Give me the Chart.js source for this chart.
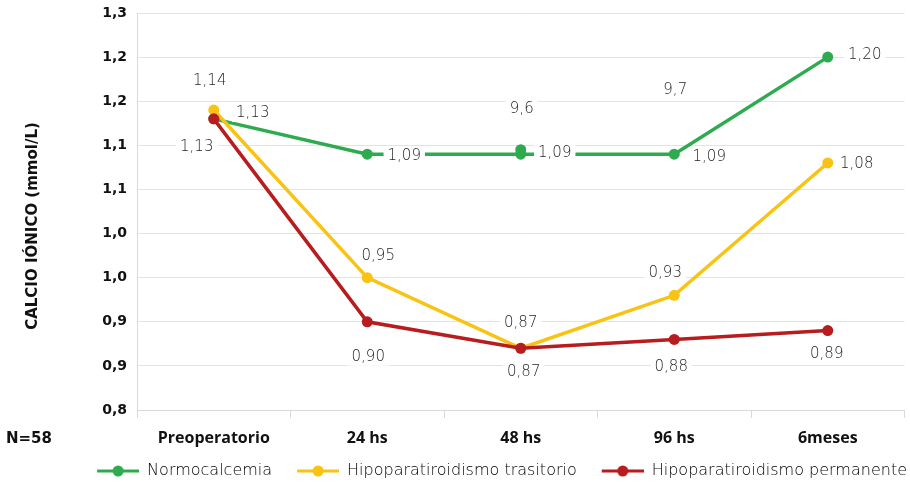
<!DOCTYPE html>
<html>
<head>
<meta charset="utf-8">
<script src="https://cdn.jsdelivr.net/npm/chart.js@4.4.1/dist/chart.umd.min.js"></script>
<style>
  html, body { margin: 0; padding: 0; background: #ffffff; }
  #wrap { width: 910px; height: 483px; }
</style>
</head>
<body>
<div id="wrap"><canvas id="calcio" width="910" height="483"></canvas></div>
<script>
// Ionic calcium (mmol/L) by group over follow-up time
const categories = ['Preoperatorio', '24 hs', '48 hs', '96 hs', '6meses'];
const seriesNames = ['Normocalcemia', 'Hipoparatiroidismo trasitorio', 'Hipoparatiroidismo permanente'];
const normocalcemia = [1.13, 1.09, 1.09, 1.09, 1.20];
const hipoTrasitorio = [1.14, 0.95, 0.87, 0.93, 1.08];
const hipoPermanente = [1.13, 0.90, 0.87, 0.88, 0.89];
const strayNormoPoint = [null, null, 1.095, null, null];
const yTickLabels = ['0,8', '0,9', '0,9', '1,0', '1,0', '1,1', '1,1', '1,2', '1,2', '1,3'];
const extraNotes = ['', '', '9,6', '9,7', ''];

// Layout of the value labels: centre offset from each point, in px
const labelOffsets = [
  [[39, -6], [37, 2], [34, -1], [35, 3], [37, -2]],
  [[-4, -29], [11, -22], [0, -25], [-9, -22], [29, 1]],
  [[-17, 28], [1, 35], [3, 24], [-3, 28], [-1, 24]]
];
const noteOffsets = [null, null, [1, -45], [1, -64], null];

const COLORS = ['#2fab4f', '#f9c313', '#b71c1e'];
const fmt = v => v.toFixed(2).replace('.', ',');

// Legend marker: a short line with a dot, with a blank lead-in that spaces the items
const ICON_GAP = 25;
function legendIcon(color) {
  const c = document.createElement('canvas');
  c.width = 42 + ICON_GAP; c.height = 12;
  const g = c.getContext('2d');
  g.strokeStyle = color; g.lineWidth = 3;
  g.beginPath(); g.moveTo(ICON_GAP, 6); g.lineTo(ICON_GAP + 42, 6); g.stroke();
  g.fillStyle = color;
  g.beginPath(); g.arc(ICON_GAP + 21, 6, 5.5, 0, Math.PI * 2); g.fill();
  return c;
}

function lineSet(label, data, color, order) {
  return {
    label, data, order,
    borderColor: color, backgroundColor: color,
    borderWidth: 3.5, pointRadius: 5.5, pointHoverRadius: 5.5,
    pointBackgroundColor: color, pointBorderWidth: 0, tension: 0
  };
}

// Value labels on white boxes, plus free notes
const valueLabels = {
  id: 'valueLabels',
  afterDatasetsDraw(chart) {
    const ctx = chart.ctx;
    ctx.save();
    ctx.font = '300 15px "DejaVu Sans"';
    ctx.textAlign = 'center';
    ctx.textBaseline = 'middle';
    const drawBoxed = (text, x, y) => {
      const w = ctx.measureText(text).width;
      ctx.fillStyle = '#ffffff';
      ctx.fillRect(x - w / 2 - 4, y - 9, w + 8, 18);
      ctx.fillStyle = '#1e1e1e';
      ctx.fillText(text, x, y);
    };
    for (let d = 0; d < 3; d++) {
      const meta = chart.getDatasetMeta(d);
      const data = chart.data.datasets[d].data;
      meta.data.forEach((pt, i) => {
        const [dx, dy] = labelOffsets[d][i];
        drawBoxed(fmt(data[i]), pt.x + dx, pt.y + dy);
      });
    }
    const normoMeta = chart.getDatasetMeta(0);
    extraNotes.forEach((t, i) => {
      if (!t) return;
      const pt = normoMeta.data[i];
      drawBoxed(t, pt.x + noteOffsets[i][0], pt.y + noteOffsets[i][1]);
    });
    ctx.restore();
  }
};

// Axis title and sample size
const sideTexts = {
  id: 'sideTexts',
  afterDraw(chart) {
    const ctx = chart.ctx;
    ctx.save();
    ctx.fillStyle = '#111111';
    ctx.font = 'bold 15px "DejaVu Sans"';
    ctx.textAlign = 'center';
    ctx.textBaseline = 'middle';
    ctx.translate(33, 226);
    ctx.rotate(-Math.PI / 2);
    ctx.fillText('CALCIO IÓNICO (mmol/L)', 0, 0);
    ctx.restore();
    ctx.save();
    ctx.fillStyle = '#111111';
    ctx.font = 'bold 15px "DejaVu Sans"';
    ctx.textAlign = 'left';
    ctx.textBaseline = 'middle';
    ctx.fillText('N=58', 6, 439);
    ctx.restore();
  }
};

new Chart(document.getElementById('calcio'), {
  type: 'line',
  data: {
    labels: categories,
    datasets: [
      lineSet(seriesNames[0], normocalcemia, COLORS[0], 3),
      lineSet(seriesNames[1], hipoTrasitorio, COLORS[1], 2),
      lineSet(seriesNames[2], hipoPermanente, COLORS[2], 1),
      Object.assign(lineSet('', strayNormoPoint, COLORS[0], 4), { showLine: false })
    ]
  },
  options: {
    responsive: false,
    animation: false,
    devicePixelRatio: 1,
    layout: { padding: { left: 40, right: 3, top: 13, bottom: -6 } },
    plugins: {
      tooltip: { enabled: false },
      legend: {
        position: 'bottom',
        align: 'end',
        labels: {
          usePointStyle: true,
          pointStyleWidth: 42 + ICON_GAP,
          padding: 0,
          color: '#3a3a3a',
          font: { family: 'DejaVu Sans', size: 16, weight: '300' },
          generateLabels: chart => chart.data.datasets.slice(0, 3).map((ds, i) => ({
            text: ds.label,
            pointStyle: legendIcon(ds.borderColor),
            fillStyle: ds.borderColor,
            strokeStyle: ds.borderColor,
            lineWidth: 0,
            hidden: false,
            datasetIndex: i
          }))
        }
      }
    },
    scales: {
      x: {
        offset: true,
        afterFit: s => { s.height = 53; s.paddingLeft = 0; s.paddingRight = 0; },
        grid: {
          offset: true,
          drawOnChartArea: true,
          color: c => (c.index === 0 || c.index === categories.length) ? '#d9d9d9' : 'rgba(0,0,0,0)',
          tickColor: '#d9d9d9',
          tickLength: 8,
          lineWidth: 1
        },
        border: { color: '#d9d9d9', width: 1 },
        ticks: {
          color: '#111111',
          padding: 11,
          maxRotation: 0,
          font: { family: 'Open Sans', size: 16, weight: 'bold' }
        }
      },
      y: {
        min: 0.8,
        max: 1.25,
        afterFit: s => { s.width = 97; s.paddingTop = 0; s.paddingBottom = 0; },
        afterBuildTicks: s => {
          const n = yTickLabels.length;
          s.ticks = yTickLabels.map((t, i) => ({ value: s.min + i * (s.max - s.min) / (n - 1) }));
        },
        grid: { color: '#e3e3e3', drawTicks: false, lineWidth: 1 },
        border: { color: '#d9d9d9', width: 1 },
        ticks: {
          color: '#111111',
          padding: 10,
          font: { family: 'DejaVu Sans', size: 14, weight: 'bold' },
          callback: (v, i) => yTickLabels[i]
        }
      }
    }
  },
  plugins: [valueLabels, sideTexts]
});
</script>
</body>
</html>
